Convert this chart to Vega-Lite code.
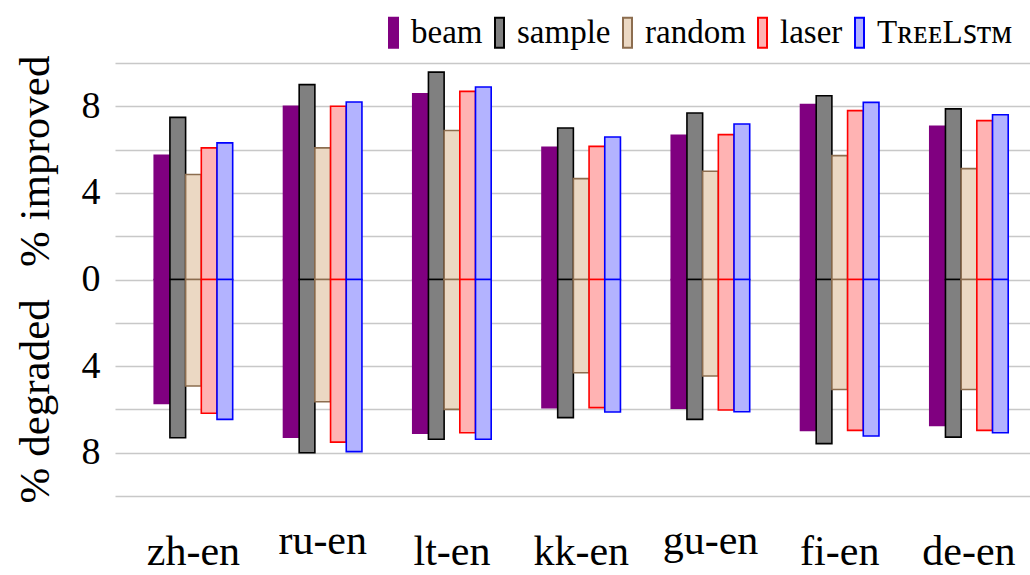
{
  "$schema": "https://vega.github.io/schema/vega-lite/v6.json",
  "width": 915,
  "height": 433,
  "autosize": {"type": "none"},
  "padding": {"left": 115, "top": 63, "right": 0, "bottom": 79},
  "background": "white",
  "config": {
    "view": {"stroke": null},
    "font": "Liberation Serif"
  },
  "data": {
    "values": [
      {"lang": "zh-en", "method": "beam", "improved": 5.74, "degraded": -5.72},
      {"lang": "zh-en", "method": "sample", "improved": 7.49, "degraded": -7.31},
      {"lang": "zh-en", "method": "random", "improved": 4.85, "degraded": -4.92},
      {"lang": "zh-en", "method": "laser", "improved": 6.08, "degraded": -6.18},
      {"lang": "zh-en", "method": "TreeLSTM", "improved": 6.31, "degraded": -6.46},
      {"lang": "ru-en", "method": "beam", "improved": 8.0, "degraded": -7.28},
      {"lang": "ru-en", "method": "sample", "improved": 9.0, "degraded": -8.0},
      {"lang": "ru-en", "method": "random", "improved": 6.08, "degraded": -5.65},
      {"lang": "ru-en", "method": "laser", "improved": 8.0, "degraded": -7.51},
      {"lang": "ru-en", "method": "TreeLSTM", "improved": 8.2, "degraded": -7.95},
      {"lang": "lt-en", "method": "beam", "improved": 8.58, "degraded": -7.1},
      {"lang": "lt-en", "method": "sample", "improved": 9.58, "degraded": -7.38},
      {"lang": "lt-en", "method": "random", "improved": 6.88, "degraded": -6.0},
      {"lang": "lt-en", "method": "laser", "improved": 8.69, "degraded": -7.08},
      {"lang": "lt-en", "method": "TreeLSTM", "improved": 8.89, "degraded": -7.38},
      {"lang": "kk-en", "method": "beam", "improved": 6.11, "degraded": -5.92},
      {"lang": "kk-en", "method": "sample", "improved": 7.0, "degraded": -6.38},
      {"lang": "kk-en", "method": "random", "improved": 4.66, "degraded": -4.31},
      {"lang": "kk-en", "method": "laser", "improved": 6.15, "degraded": -5.92},
      {"lang": "kk-en", "method": "TreeLSTM", "improved": 6.58, "degraded": -6.12},
      {"lang": "gu-en", "method": "beam", "improved": 6.66, "degraded": -5.95},
      {"lang": "gu-en", "method": "sample", "improved": 7.69, "degraded": -6.46},
      {"lang": "gu-en", "method": "random", "improved": 5.0, "degraded": -4.46},
      {"lang": "gu-en", "method": "laser", "improved": 6.69, "degraded": -6.03},
      {"lang": "gu-en", "method": "TreeLSTM", "improved": 7.18, "degraded": -6.11},
      {"lang": "fi-en", "method": "beam", "improved": 8.08, "degraded": -6.97},
      {"lang": "fi-en", "method": "sample", "improved": 8.49, "degraded": -7.58},
      {"lang": "fi-en", "method": "random", "improved": 5.72, "degraded": -5.08},
      {"lang": "fi-en", "method": "laser", "improved": 7.8, "degraded": -6.97},
      {"lang": "fi-en", "method": "TreeLSTM", "improved": 8.18, "degraded": -7.23},
      {"lang": "de-en", "method": "beam", "improved": 7.08, "degraded": -6.74},
      {"lang": "de-en", "method": "sample", "improved": 7.88, "degraded": -7.28},
      {"lang": "de-en", "method": "random", "improved": 5.12, "degraded": -5.08},
      {"lang": "de-en", "method": "laser", "improved": 7.34, "degraded": -6.97},
      {"lang": "de-en", "method": "TreeLSTM", "improved": 7.61, "degraded": -7.08}
    ]
  },
  "transform": [
    {"fold": ["improved", "degraded"], "as": ["dir", "value"]}
  ],
  "mark": {"type": "bar", "strokeWidth": 1.6, "cornerRadius": 0},
  "encoding": {
    "x": {
      "field": "lang",
      "type": "nominal",
      "sort": ["zh-en", "ru-en", "lt-en", "kk-en", "gu-en", "fi-en", "de-en"],
      "scale": {"paddingInner": 0.393, "paddingOuter": 0.236, "align": 0.643},
      "axis": {
        "title": null,
        "domain": false,
        "ticks": false,
        "tickSize": 0,
        "labelAngle": 0,
        "labelFont": "Liberation Serif",
        "labelFontSize": 42,
        "labelColor": "black",
        "labelBaseline": "alphabetic",
        "labelPadding": {"condition": {"test": "datum.value == 'ru-en' || datum.value == 'gu-en'", "value": 57}, "value": 68}
      }
    },
    "xOffset": {
      "field": "method",
      "type": "nominal",
      "sort": ["beam", "sample", "random", "laser", "TreeLSTM"],
      "scale": {"paddingInner": 0, "paddingOuter": 0}
    },
    "y": {
      "field": "value",
      "type": "quantitative",
      "scale": {"domain": [-10, 10], "nice": false},
      "axis": {
        "values": [-10, -8, -6, -4, -2, 0, 2, 4, 6, 8, 10],
        "labelExpr": "abs(datum.value) % 4 == 0 ? format(abs(datum.value), 'd') : ''",
        "grid": true,
        "gridColor": "#c8c8c8",
        "gridWidth": 1.5,
        "domain": false,
        "ticks": false,
        "tickSize": 0,
        "labelFont": "Liberation Serif",
        "labelFontSize": 38,
        "labelColor": "black",
        "labelPadding": 15,
        "title": "% degraded\u00a0\u00a0\u00a0% improved",
        "titleFont": "Liberation Serif",
        "titleFontSize": 43,
        "titleFontWeight": "normal",
        "titleColor": "black",
        "titleAngle": 270,
        "titleAlign": "center",
        "titleBaseline": "alphabetic",
        "titleX": -67,
        "titleY": 216
      }
    },
    "fill": {
      "field": "method",
      "type": "nominal",
      "scale": {
        "domain": ["beam", "sample", "random", "laser", "TreeLSTM"],
        "range": ["#800080", "#808080", "#ebd8c3", "#ffb3b3", "#b3b3ff"]
      },
      "legend": {
        "title": null,
        "orient": "none",
        "direction": "horizontal",
        "legendX": 262,
        "legendY": -47,
        "padding": 0,
        "symbolType": "M-1,-3.33H1V3.33H-1Z",
        "symbolSize": 81,
        "symbolStrokeWidth": 2,
        "symbolOpacity": 1,
        "labelFont": "Liberation Serif",
        "labelFontSize": 33,
        "labelColor": "black",
        "labelLimit": 400,
        "labelOffset": 1,
        "columnPadding": -3,
        "labelExpr": "datum.label == 'TreeLSTM' ? 'T\u0280\u1d07\u1d07L\ua731\u1d1b\u1d0d' : datum.label"
      }
    },
    "stroke": {
      "field": "method",
      "type": "nominal",
      "scale": {
        "domain": ["beam", "sample", "random", "laser", "TreeLSTM"],
        "range": ["#800080", "#000000", "#8c6d4f", "#ff0000", "#0000ff"]
      },
      "legend": {
        "title": null,
        "orient": "none",
        "direction": "horizontal",
        "legendX": 262,
        "legendY": -47,
        "padding": 0,
        "symbolType": "M-1,-3.33H1V3.33H-1Z",
        "symbolSize": 81,
        "symbolStrokeWidth": 2,
        "symbolOpacity": 1,
        "labelFont": "Liberation Serif",
        "labelFontSize": 33,
        "labelColor": "black",
        "labelLimit": 400,
        "labelOffset": 1,
        "columnPadding": -3,
        "labelExpr": "datum.label == 'TreeLSTM' ? 'T\u0280\u1d07\u1d07L\ua731\u1d1b\u1d0d' : datum.label"
      }
    }
  }
}
